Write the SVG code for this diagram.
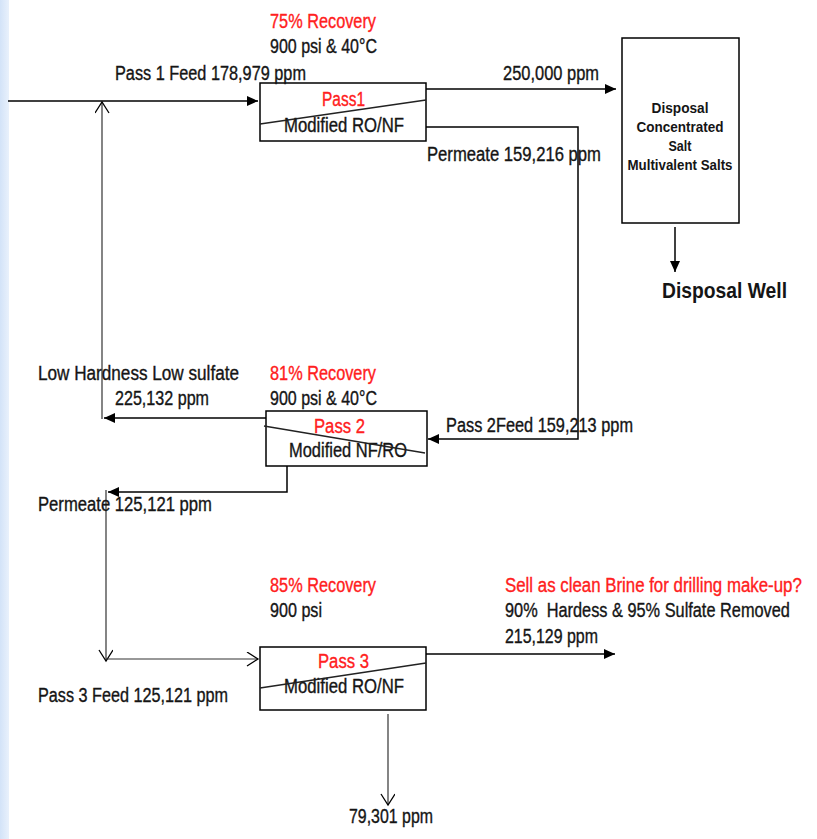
<svg xmlns="http://www.w3.org/2000/svg" width="817" height="839" viewBox="0 0 817 839">
<defs>
<linearGradient id="strip" x1="0" y1="0" x2="1" y2="0">
<stop offset="0" stop-color="#d3e3f8"/>
<stop offset="1" stop-color="#e9f1fc"/>
</linearGradient>
<marker id="fa" markerUnits="userSpaceOnUse" markerWidth="12" markerHeight="12" refX="11" refY="5" orient="auto">
<path d="M0,0 L11,5 L0,10 Z" fill="#000"/>
</marker>
<marker id="oa" markerUnits="userSpaceOnUse" markerWidth="14" markerHeight="16" refX="12" refY="7" orient="auto">
<path d="M1,0 L12,7 L1,14" fill="none" stroke="#000" stroke-width="1.3"/>
</marker>
</defs>
<style>
text{font-family:"Liberation Sans",Arial,sans-serif;font-size:19.5px;fill:#151515;stroke:#151515;stroke-width:0.35}
.r{fill:#ff2020;stroke:#ff2020}
.sm{font-size:15.5px;font-weight:bold;stroke-width:0}
.big{font-size:22px;font-weight:bold;stroke-width:0}
.box{fill:#fff;stroke:#000;stroke-width:1.5}
.diag{stroke:#222;stroke-width:1.4;fill:none}
.ln{fill:none;stroke:#000;stroke-width:1.5}
.tn{fill:none;stroke:#333;stroke-width:1.2}
</style>
<rect x="0" y="0" width="817" height="839" fill="#fff"/>
<rect x="0" y="0" width="9" height="839" fill="url(#strip)"/>

<g id="connectors">
<path class="ln" d="M8,101 H258" marker-end="url(#fa)"/>
<path class="ln" d="M426,89 H616" marker-end="url(#fa)"/>
<path class="ln" d="M426,127 H578 V439 H428" marker-end="url(#fa)"/>
<path class="ln" d="M266,418 H104" marker-end="url(#fa)"/>
<path class="tn" d="M102,419 V102" marker-end="url(#oa)"/>
<path class="ln" d="M287,466 V492 H108" marker-end="url(#fa)"/>
<path class="tn" d="M106,490 V661" marker-end="url(#oa)"/>
<path class="tn" d="M106,659 H258" marker-end="url(#oa)"/>
<path class="ln" d="M675,227 V272" marker-end="url(#fa)"/>
<path class="ln" d="M426,654 H615" marker-end="url(#fa)"/>
<path class="tn" d="M388,714 V805" marker-end="url(#oa)"/>
</g>

<g id="pass1">
<rect class="box" x="260" y="83" width="166" height="58"/>
<text class="r" x="322" y="106" textLength="43" lengthAdjust="spacingAndGlyphs">Pass1</text>
<text x="284" y="132" textLength="120" lengthAdjust="spacingAndGlyphs">Modified RO/NF</text>
<line class="diag" x1="260" y1="124" x2="426" y2="100"/>
</g>

<g id="pass1-labels">
<text class="r" x="270" y="28" textLength="106" lengthAdjust="spacingAndGlyphs">75% Recovery</text>
<text x="270" y="53" textLength="107" lengthAdjust="spacingAndGlyphs">900 psi &amp; 40°C</text>
<text x="115" y="80" textLength="191" lengthAdjust="spacingAndGlyphs">Pass 1 Feed 178,979 ppm</text>
<text x="503" y="80" textLength="96" lengthAdjust="spacingAndGlyphs">250,000 ppm</text>
<text x="427" y="161" textLength="174" lengthAdjust="spacingAndGlyphs">Permeate 159,216 ppm</text>
</g>

<g id="disposal">
<rect class="box" x="622" y="38" width="117" height="185"/>
<text class="sm" x="680" y="113" text-anchor="middle" textLength="57" lengthAdjust="spacingAndGlyphs">Disposal</text>
<text class="sm" x="680" y="132" text-anchor="middle" textLength="87" lengthAdjust="spacingAndGlyphs">Concentrated</text>
<text class="sm" x="680" y="151" text-anchor="middle" textLength="23" lengthAdjust="spacingAndGlyphs">Salt</text>
<text class="sm" x="680" y="170" text-anchor="middle" textLength="105" lengthAdjust="spacingAndGlyphs">Multivalent Salts</text>
</g>

<g id="disposal-well">
<text class="big" x="662" y="298" textLength="125" lengthAdjust="spacingAndGlyphs">Disposal Well</text>
</g>

<g id="pass2">
<rect class="box" x="266" y="411" width="161" height="55"/>
<text class="r" x="314" y="433" textLength="51" lengthAdjust="spacingAndGlyphs">Pass 2</text>
<text x="289" y="457" textLength="118" lengthAdjust="spacingAndGlyphs">Modified NF/RO</text>
<line class="diag" x1="264" y1="426" x2="425" y2="453"/>
</g>

<g id="pass2-labels">
<text x="38" y="380" textLength="201" lengthAdjust="spacingAndGlyphs">Low Hardness Low sulfate</text>
<text x="115" y="405" textLength="94" lengthAdjust="spacingAndGlyphs">225,132 ppm</text>
<text class="r" x="270" y="380" textLength="106" lengthAdjust="spacingAndGlyphs">81% Recovery</text>
<text x="270" y="405" textLength="107" lengthAdjust="spacingAndGlyphs">900 psi &amp; 40°C</text>
<text x="446" y="432" textLength="187" lengthAdjust="spacingAndGlyphs">Pass 2Feed 159,213 ppm</text>
<text x="38" y="511" textLength="174" lengthAdjust="spacingAndGlyphs">Permeate 125,121 ppm</text>
</g>

<g id="pass3">
<rect class="box" x="260" y="647" width="166" height="63"/>
<text class="r" x="318" y="668" textLength="51" lengthAdjust="spacingAndGlyphs">Pass 3</text>
<text x="284" y="693" textLength="120" lengthAdjust="spacingAndGlyphs">Modified RO/NF</text>
<line class="diag" x1="260" y1="688" x2="426" y2="663"/>
</g>

<g id="pass3-labels">
<text class="r" x="270" y="592" textLength="106" lengthAdjust="spacingAndGlyphs">85% Recovery</text>
<text x="270" y="617" textLength="52" lengthAdjust="spacingAndGlyphs">900 psi</text>
<text class="r" transform="translate(505,592) scale(0.864,1)" x="0" y="0">Sell as clean Brine for drilling make-up?</text>
<text transform="translate(505,617) scale(0.838,1)" x="0" y="0" xml:space="preserve">90%  Hardess &amp; 95% Sulfate Removed</text>
<text x="505" y="643" textLength="93" lengthAdjust="spacingAndGlyphs">215,129 ppm</text>
<text x="38" y="702" textLength="190" lengthAdjust="spacingAndGlyphs">Pass 3 Feed 125,121 ppm</text>
<text x="349" y="823" textLength="84" lengthAdjust="spacingAndGlyphs">79,301 ppm</text>
</g>
</svg>
